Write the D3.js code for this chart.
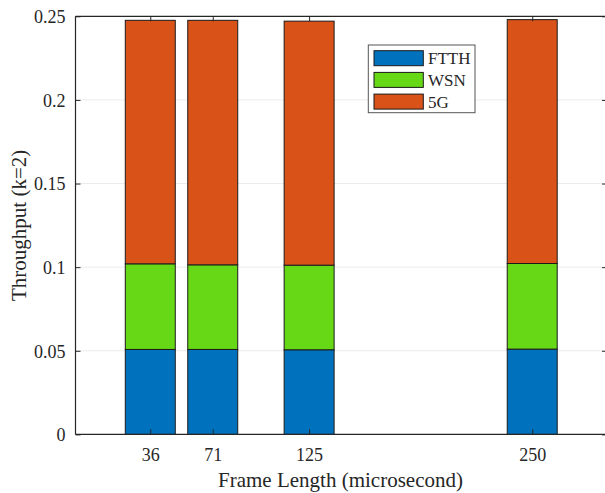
<!DOCTYPE html>
<html>
<head>
<meta charset="utf-8">
<script src="https://cdn.jsdelivr.net/npm/d3@7"></script>
<style>
  html, body { margin: 0; padding: 0; background: #fff; }
  svg { display: block; }
  svg text { font-family: "Liberation Serif", "Times New Roman", serif !important; }
</style>
</head>
<body>
<svg id="chart" width="605" height="493"></svg>
<script>
// Frame lengths (microsecond) on a numeric x axis
const frameLengths = [36, 71, 125, 250];
const seriesNames = ["FTTH", "WSN", "5G"];
const ftth = [0.0508, 0.0508, 0.0506, 0.0510];
const wsn  = [0.0512, 0.0506, 0.0506, 0.0512];
const fiveG = [0.1456, 0.1462, 0.1459, 0.1458];
const yTicks = [0, 0.05, 0.1, 0.15, 0.2, 0.25];
const yTickLabels = ["0", "0.05", "0.1", "0.15", "0.2", "0.25"];
const colors = ["#0072BD", "#66D816", "#D95319"];

const rows = frameLengths.map((f, i) => ({ frame: f, FTTH: ftth[i], WSN: wsn[i], "5G": fiveG[i] }));
const stacked = d3.stack().keys(seriesNames)(rows);

const svg = d3.select("#chart");
const plotL = 75.5, plotR = 607, plotT = 16.3, plotB = 434.4;

const x = d3.scaleLinear().domain([-5.9, 291.9]).range([plotL, plotR]);
const y = d3.scaleLinear().domain([0, 0.25]).range([plotB, plotT]);
const barW = x(28) - x(0);

// horizontal grid
svg.append("g").selectAll("line").data(yTicks.slice(1, -1)).join("line")
  .attr("x1", plotL).attr("x2", plotR)
  .attr("y1", d => y(d)).attr("y2", d => y(d))
  .attr("stroke", "#ebebeb").attr("stroke-width", 1);

// stacked bars
svg.append("g").selectAll("g").data(stacked).join("g")
  .attr("fill", (d, i) => colors[i])
  .selectAll("rect").data(d => d).join("rect")
  .attr("x", d => x(d.data.frame) - barW / 2)
  .attr("width", barW)
  .attr("y", d => y(d[1]))
  .attr("height", d => y(d[0]) - y(d[1]))
  .attr("stroke", "#1a1a1a").attr("stroke-width", 1);

// axes
const axisColor = "#262626";
const tickLen = 5;
const gx = svg.append("g").attr("transform", `translate(0,${plotB})`)
  .call(d3.axisBottom(x).tickValues(frameLengths).tickSize(-tickLen).tickPadding(14).tickFormat(d3.format("d")));
const gxTop = svg.append("g").attr("transform", `translate(0,${plotT})`)
  .call(d3.axisTop(x).tickValues(frameLengths).tickSize(-tickLen).tickFormat(""));
const gy = svg.append("g").attr("transform", `translate(${plotL},0)`)
  .call(d3.axisLeft(y).tickValues(yTicks).tickSize(-tickLen).tickPadding(10)
    .tickFormat((d, i) => yTickLabels[i]));
const gyR = svg.append("g").attr("transform", `translate(${plotR},0)`)
  .call(d3.axisRight(y).tickValues(yTicks).tickSize(-tickLen).tickFormat(""));

[gx, gxTop, gy, gyR].forEach(g => {
  g.attr("font-family", "Liberation Serif").attr("font-size", 18);
  g.select(".domain").attr("stroke", axisColor).attr("stroke-width", 1.2);
  g.selectAll(".tick line").attr("stroke", axisColor).attr("stroke-width", 1);
  g.selectAll(".tick text").attr("fill", axisColor).attr("font-size", 18);
});
gx.select(".domain").attr("d", `M${plotL},0H${plotR}`);
gxTop.select(".domain").attr("d", `M${plotL},0H${plotR}`);
gy.select(".domain").attr("d", `M0,${plotB}V${plotT}`);
gyR.select(".domain").attr("d", `M0,${plotB}V${plotT}`);
gy.selectAll(".tick text").attr("dy", "0.35em");

// axis titles
svg.append("text")
  .attr("x", 340.5).attr("y", 487)
  .attr("text-anchor", "middle").attr("font-size", 21).attr("fill", axisColor)
  .text("Frame Length (microsecond)");
svg.append("text")
  .attr("transform", `translate(26,${(plotT + plotB) / 2}) rotate(-90)`)
  .attr("text-anchor", "middle").attr("font-size", 21).attr("fill", axisColor)
  .text("Throughput (k=2)");

// legend
const lg = svg.append("g").attr("transform", "translate(368.3,45)");
lg.append("rect").attr("width", 106.7).attr("height", 67.7)
  .attr("fill", "#fff").attr("stroke", "#555").attr("stroke-width", 1);
seriesNames.forEach((name, i) => {
  const row = lg.append("g").attr("transform", `translate(5.7,${5.7 + i * 21.7})`);
  row.append("rect").attr("width", 49.3).attr("height", 15)
    .attr("fill", colors[i]).attr("stroke", "#1a1a1a").attr("stroke-width", 1);
  row.append("text").attr("x", 54).attr("y", 13.5)
    .attr("font-size", 17).attr("fill", axisColor).text(name);
});
</script>
</body>
</html>
